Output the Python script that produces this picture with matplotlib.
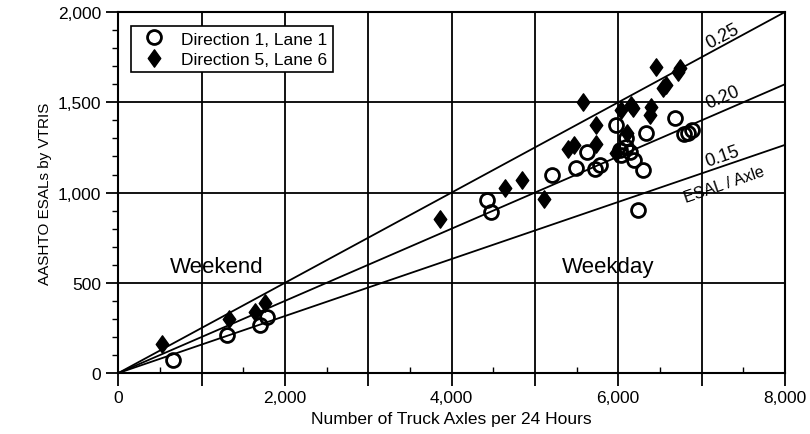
import matplotlib
matplotlib.use("Agg")
import matplotlib.pyplot as plt
from matplotlib.ticker import MultipleLocator, FuncFormatter
from matplotlib.path import Path
import numpy as np

plt.rcParams['font.family'] = ['Liberation Sans', 'DejaVu Sans']

# Direction 1, Lane 1 (open circles)
d1_axles = [660, 1300, 1700, 1787, 4426, 4478, 5210, 5498, 5625, 5717, 5777,
            5969, 6017, 6037, 6097, 6097, 6137, 6189, 6297, 6237, 6329, 6677,
            6790, 6840, 6880]
d1_esals = [72, 211, 267, 309, 957, 893, 1096, 1137, 1222, 1133, 1152,
            1374, 1235, 1207, 1254, 1300, 1226, 1179, 1124, 902, 1332, 1411,
            1322, 1330, 1345]

# Direction 5, Lane 6 (filled diamonds)
d5_axles = [520, 1331, 1640, 1760, 3858, 4646, 4846, 5106, 5397, 5465, 5577,
            5729, 5737, 5977, 6037, 6109, 6157, 6177, 6397, 6377, 6449, 6537,
            6577, 6737, 6720]
d5_esals = [161, 300, 337, 389, 856, 1028, 1068, 967, 1244, 1263, 1504,
            1374, 1268, 1217, 1457, 1332, 1485, 1467, 1476, 1430, 1698, 1582,
            1596, 1689, 1670]

# ESAL per axle reference lines (slopes)
ref_labels = ["0.25", "0.20", "0.15"]
ref_slopes = [0.25, 0.20, 0.158]

diamond = Path([(0, 1), (0.72, 0), (0, -1), (-0.72, 0), (0, 1)],
               [Path.MOVETO, Path.LINETO, Path.LINETO, Path.LINETO, Path.CLOSEPOLY])

fig = plt.figure(figsize=(8.1, 4.35), dpi=100)
ax = fig.add_axes([0.146, 0.140, 0.823, 0.830])

x_line = np.array([0, 8000])
for s in ref_slopes:
    ax.plot(x_line, s * x_line, color="black", linewidth=1.3, zorder=2)

ax.plot(d1_axles, d1_esals, linestyle="none", marker="o", markersize=10,
        markerfacecolor="none", markeredgecolor="black", markeredgewidth=2,
        label="Direction 1, Lane 1", zorder=3)
ax.plot(d5_axles, d5_esals, linestyle="none", marker=diamond, markersize=12.5,
        color="black", label="Direction 5, Lane 6", zorder=3)

# line labels
lab_kw = dict(ha="center", va="center", rotation_mode="anchor", fontsize=13)
ax.text(7250, 1870, ref_labels[0], rotation=28, **lab_kw)
ax.text(7250, 1530, ref_labels[1], rotation=23, **lab_kw)
ax.text(7255, 1205, ref_labels[2], rotation=19, **lab_kw)
ax.text(7270, 1045, "ESAL / Axle", rotation=19, ha="center", va="center",
        rotation_mode="anchor", fontsize=11.5)

ax.text(1180, 590, "Weekend", fontsize=16, ha="center", va="center")
ax.text(5880, 590, "Weekday", fontsize=16, ha="center", va="center")

ax.set_xlim(0, 8000)
ax.set_ylim(0, 2000)
ax.xaxis.set_major_locator(MultipleLocator(1000))
ax.xaxis.set_minor_locator(MultipleLocator(500))
ax.yaxis.set_major_locator(MultipleLocator(500))
ax.yaxis.set_minor_locator(MultipleLocator(100))

def xfmt(v, pos):
    return f"{int(v):,}" if int(v) % 2000 == 0 else ""

ax.xaxis.set_major_formatter(FuncFormatter(xfmt))
ax.yaxis.set_major_formatter(FuncFormatter(lambda v, p: f"{int(v):,}"))
ax.tick_params(axis="both", which="major", direction="out", length=9, width=1.3,
               labelsize=12.5, colors="black")
ax.tick_params(axis="x", which="minor", direction="in", length=4, width=1)
ax.tick_params(axis="y", which="minor", direction="out", length=4, width=1)

ax.grid(True, which="major", color="black", linewidth=1.3)
for sp in ax.spines.values():
    sp.set_linewidth(1.5)

ax.set_xlabel("Number of Truck Axles per 24 Hours", fontsize=12.5)
ax.set_ylabel("AASHTO ESALs by VTRIS", fontsize=11)

leg = ax.legend(loc="upper left", fontsize=12.5, fancybox=False, framealpha=1,
                edgecolor="black", borderpad=0.3, handletextpad=0.6,
                labelspacing=0.3, bbox_to_anchor=(0.006, 0.985))
leg.get_frame().set_linewidth(1.2)

fig.savefig("out.png", dpi=100)
